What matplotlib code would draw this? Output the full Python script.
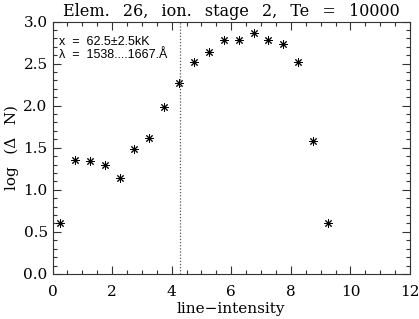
import matplotlib
matplotlib.use("Agg")
from matplotlib import pyplot as plt
from matplotlib.ticker import MultipleLocator

# data
intensity = [0.25, 0.75, 1.25, 1.75, 2.25, 2.75, 3.25, 3.75, 4.25, 4.75,
             5.25, 5.75, 6.25, 6.75, 7.25, 7.75, 8.25, 8.75, 9.25]
log_dn = [0.60, 1.36, 1.34, 1.30, 1.14, 1.48, 1.61, 1.98, 2.27, 2.52,
          2.64, 2.78, 2.78, 2.86, 2.78, 2.73, 2.52, 1.58, 0.60]
cut_x = 4.27
title = "Elem. 26, ion. stage 2, Te = 10000"
info_lines = ["x = 62.5\u00b12.5kK", "\u03bb = 1538....1667.\u00c5"]


def wide(s):
    # the original (IDL) fonts use very wide word gaps
    return s.replace(' ', '\u2002 ')


plt.rcParams['font.family'] = ['DejaVu Serif']

fig = plt.figure(figsize=(4.19, 3.19), dpi=100)
ax = fig.add_axes([0.1253, 0.1411, 0.8532, 0.7915])

ax.plot(intensity, log_dn, linestyle='none', marker=(8, 2, 0),
        markersize=6, markeredgewidth=0.7, color='black')
ax.axvline(cut_x, color='#555555', linestyle=(0, (1, 1.5)), linewidth=0.9)

ax.set_xlim(0, 12)
ax.set_ylim(0, 3.0)
ax.xaxis.set_major_locator(MultipleLocator(2))
ax.xaxis.set_minor_locator(MultipleLocator(0.5))
ax.yaxis.set_major_locator(MultipleLocator(0.5))
ax.yaxis.set_minor_locator(MultipleLocator(0.1))
ax.yaxis.set_major_formatter(plt.FormatStrFormatter('%.1f'))
ax.tick_params(which='both', direction='in', top=True, right=True,
               labelsize=11, width=0.8, colors='#333333', labelcolor='black')
ax.tick_params(which='major', length=6)
ax.tick_params(which='minor', length=3)
ax.tick_params(axis='x', pad=8)
for s in ax.spines.values():
    s.set_linewidth(0.8)
    s.set_color('#333333')

ax.set_title(wide(title), fontsize=11.5, pad=4)
ax.set_xlabel("line\u2212intensity", fontsize=11, labelpad=2)
ax.set_ylabel(wide("log (\u0394 N)"), fontsize=11, labelpad=3)

for i, line in enumerate(info_lines):
    ax.text(0.018, 0.92 - i * 0.052, line.replace(' = ', '  =  '),
            transform=ax.transAxes,
            fontsize=9, family='Liberation Sans', va='center', ha='left')

fig.savefig("out.png", dpi=100)
